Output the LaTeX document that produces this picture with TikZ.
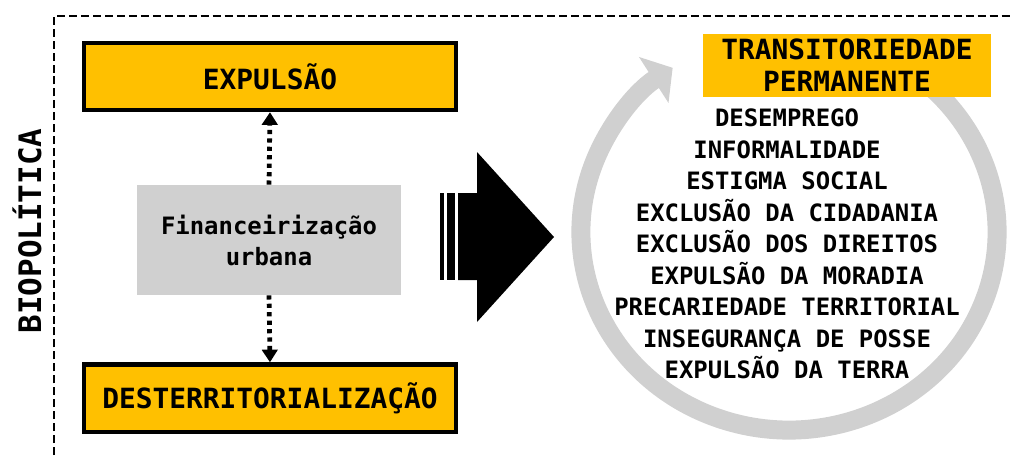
\documentclass[tikz,border=0pt]{standalone}
\usepackage{fontspec}
\setmonofont{DejaVu Sans Mono}
\usetikzlibrary{arrows.meta,calc}
\definecolor{laranja}{HTML}{FFC000}
\definecolor{cinza}{HTML}{D0D0D0}

\begin{document}
\begin{tikzpicture}[x=0.025cm,y=0.025cm,
  caixa/.style={draw=black,line width=3pt,fill=laranja,minimum width=9.3cm,minimum height=1.68cm,
    font=\ttfamily\bfseries\fontsize{19.8}{23}\selectfont},
  pontilhado/.style={line width=3.4pt,dash pattern=on 3pt off 3pt,-{Triangle[width=11pt,length=9pt]}},
  lista/.style={align=center,font=\ttfamily\bfseries\fontsize{17}{22.4}\selectfont}]
\useasboundingbox (0,0) rectangle (1012,-455);
\draw[line width=2pt,dash pattern=on 5.7pt off 2.8pt] (54,-455) -- (54,-16) -- (1012,-16);
\node[rotate=90,font=\ttfamily\bfseries\fontsize{22}{26}\selectfont] (bio) at (27,-231) {BIOPOLÍTICA};

  \node[caixa] (expulsao) at (270,-76.5) {EXPULSÃO};
  \node[caixa] (desterr) at (270,-398) {DESTERRITORIALIZAÇÃO};
  \node[fill=cinza,minimum width=6.6cm,minimum height=2.75cm,align=center,
    font=\ttfamily\bfseries\fontsize{17}{22}\selectfont] (fin) at (269,-240) {Financeirização\\urbana};
  \draw[pontilhado] (fin.north) -- (expulsao.south);
  \draw[pontilhado] (fin.south) -- (desterr.north);

% seta grande
  \fill[black] (458,-193) -- (477,-193) -- (477,-152) -- (554,-237) -- (477,-322) -- (477,-280) -- (458,-280) -- cycle;
  \foreach \a/\b in {440/444,447/455}
  	\fill[black] (\a,-193) rectangle (\b,-280);

% ciclo
  \coordinate (ringc) at (789,-232);
  \draw[cinza,line width=13.5pt,-{Triangle[width=38pt,length=16pt]}] ([shift={(70:5.2cm and 4.95cm)}]ringc)
    arc[start angle=70,end angle=-236,x radius=5.2cm,y radius=4.95cm];
  \node[fill=laranja,minimum width=7.2cm,minimum height=1.58cm,align=center,
    font=\ttfamily\bfseries\fontsize{19.8}{22.8}\selectfont] (trans) at (847,-65.5) {TRANSITORIEDADE\\PERMANENTE};
  \node[lista] (efeitos) at (787,-244) {DESEMPREGO\\INFORMALIDADE\\ESTIGMA SOCIAL\\EXCLUSÃO DA CIDADANIA\\EXCLUSÃO DOS DIREITOS\\EXPULSÃO DA MORADIA\\PRECARIEDADE TERRITORIAL\\INSEGURANÇA DE POSSE\\EXPULSÃO DA TERRA};
\end{tikzpicture}
\end{document}
